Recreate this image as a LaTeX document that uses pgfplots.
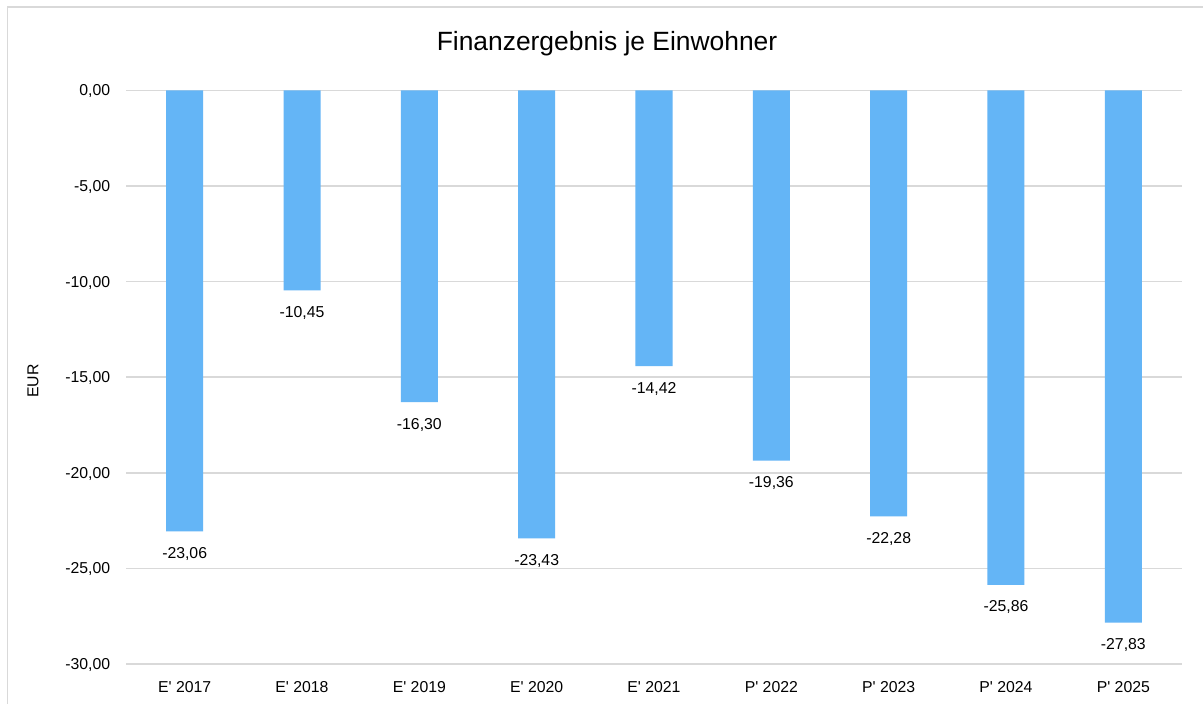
\documentclass[border=0pt]{standalone}
\usepackage{fontspec}
\setmainfont{Liberation Sans}
\usepackage{pgfplots}
\pgfplotsset{compat=1.18}
\definecolor{barblue}{HTML}{64B5F6}
\definecolor{gridgray}{HTML}{D9D9D9}
\begin{document}
\begin{tikzpicture}[x=1pt,y=1pt]
\useasboundingbox (0,0) rectangle (601.5,352);
\fill[white] (0,0) rectangle (601.5,352);
\draw[gridgray, line width=0.9pt] (3.7,0) -- (3.7,348.3) -- (601.5,348.3);
\node[font=\fontsize{13.2}{15}\selectfont] at (303.5,330) {Finanzergebnis je Einwohner};
\node[font=\fontsize{7.9}{9.5}\selectfont, rotate=90] at (16.5,161.5) {EUR};
\begin{axis}[
  at={(63pt,20pt)}, anchor=south west,
  scale only axis, width=528pt, height=286.75pt,
  xmin=-0.5, xmax=8.5, ymin=-30, ymax=0,
  ytick={-30,-25,-20,-15,-10,-5,0},
  xtick={0,1,2,3,4,5,6,7,8},
  xticklabels={E\textquotesingle{} 2017,E\textquotesingle{} 2018,E\textquotesingle{} 2019,E\textquotesingle{} 2020,E\textquotesingle{} 2021,P\textquotesingle{} 2022,P\textquotesingle{} 2023,P\textquotesingle{} 2024,P\textquotesingle{} 2025},
  axis line style={draw=none},
  major tick style={draw=none},
  ymajorgrids,
  grid style={gridgray, line width=0.75pt},
  /pgf/number format/.cd, fixed, fixed zerofill, precision=2, use comma, 1000 sep={}, assume math mode=true,
  /pgfplots/.cd,
  tick label style={font=\fontsize{7.9}{9.5}\selectfont},
  yticklabel style={xshift=-4.4pt, yshift=-0.5pt},
  xticklabel style={yshift=-0.8pt},
  ybar, bar width=18.5pt,
  nodes near coords,
  every node near coord/.append style={anchor=north, yshift=-4.5pt, font=\fontsize{7.9}{9.5}\selectfont, text=black},
  clip=false,
]
\addplot[fill=barblue, draw=none] coordinates {
  (0,-23.06) (1,-10.45) (2,-16.30) (3,-23.43) (4,-14.42)
  (5,-19.36) (6,-22.28) (7,-25.86) (8,-27.83)
};
\end{axis}
\end{tikzpicture}
\end{document}
